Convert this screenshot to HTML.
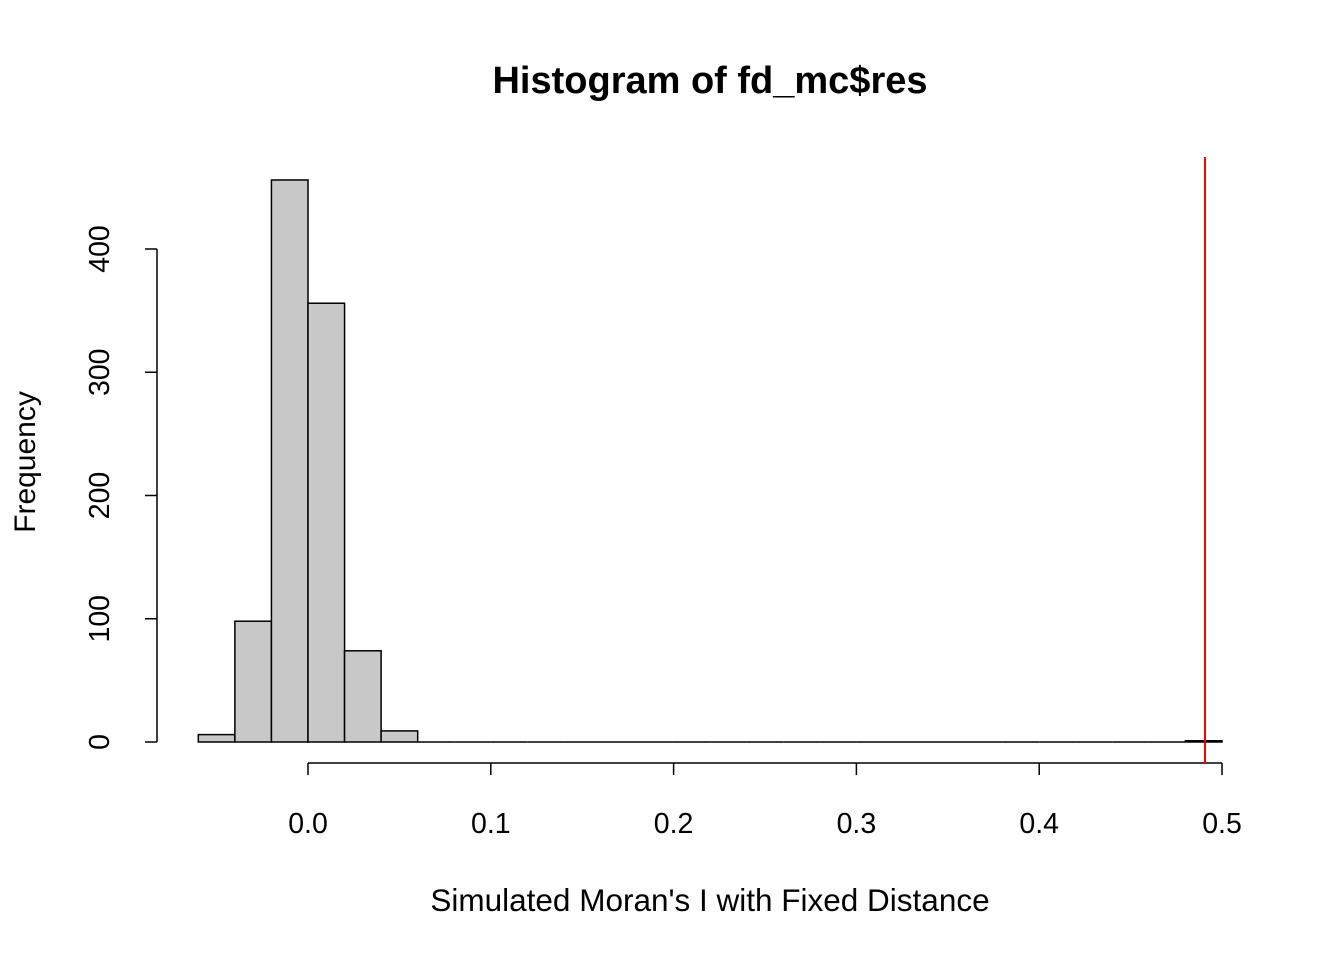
<!DOCTYPE html>
<html><head><meta charset="utf-8"><style>
body{margin:0;background:#fff;}
svg text{font-family:"Liberation Sans",Arial,sans-serif;fill:#000;}
</style></head><body>
<svg id="chart" width="1344" height="960" xmlns="http://www.w3.org/2000/svg">
<rect width="1344" height="960" fill="#fff"/>
<text x="710" y="93" font-size="38" font-weight="bold" text-anchor="middle">Histogram of fd_mc$res</text>
<text x="710" y="911" font-size="31.5" text-anchor="middle">Simulated Moran's I with Fixed Distance</text>
<text transform="translate(35,462) rotate(-90)" font-size="30" text-anchor="middle">Frequency</text>
<g id="bars"></g>
<g id="xaxis"></g>
<g id="yaxis"></g>
<g id="refline"></g>
</svg>
<script>
const binStart = -0.06;
const binWidth = 0.02;
const counts = [6,98,456,356,74,9,0,0,0,0,0,0,0,0,0,0,0,0,0,0,0,0,0,0,0,0,0,1];
const xTicks = [0,0.1,0.2,0.3,0.4,0.5];
const xTickLabels = ["0.0","0.1","0.2","0.3","0.4","0.5"];
const yTicks = [0,100,200,300,400];
const observed = [0.4907];

const NS="http://www.w3.org/2000/svg";
const xs = v => 308 + v*1828;
const ys = v => 742 - v*1.2325;
function mk(tag, attrs, parent){const e=document.createElementNS(NS,tag);for(const k in attrs)e.setAttribute(k,attrs[k]);parent.appendChild(e);return e;}
const bars=document.getElementById('bars');
counts.forEach((c,i)=>{
  const x0=xs(binStart+i*binWidth), x1=xs(binStart+(i+1)*binWidth);
  let r;
  if(c===0){
    r=mk('line',{x1:x0,x2:x1,y1:ys(0),y2:ys(0),stroke:'#000','stroke-width':1.5},bars);
  } else {
    r=mk('rect',{x:x0,y:ys(c),width:x1-x0,height:ys(0)-ys(c),fill:'#c8c8c8',stroke:'#000','stroke-width':1.5},bars);
  }
  
  
});
const xa=document.getElementById('xaxis');
mk('line',{x1:xs(xTicks[0]),x2:xs(xTicks[xTicks.length-1]),y1:763,y2:763,stroke:'#000','stroke-width':1.5},xa);
xTicks.forEach((t,i)=>{
  mk('line',{x1:xs(t),x2:xs(t),y1:763,y2:775,stroke:'#000','stroke-width':1.5},xa);
  const tx=mk('text',{x:xs(t),y:833,'font-size':28.5,'text-anchor':'middle'},xa);
  tx.textContent=xTickLabels[i];
  
  
});
const ya=document.getElementById('yaxis');
mk('line',{x1:157,x2:157,y1:ys(yTicks[0]),y2:ys(yTicks[yTicks.length-1]),stroke:'#000','stroke-width':1.5},ya);
yTicks.forEach(t=>{
  mk('line',{x1:145,x2:157,y1:ys(t),y2:ys(t),stroke:'#000','stroke-width':1.5},ya);
  const tx=mk('text',{transform:`translate(109,${ys(t)}) rotate(-90)`,'font-size':28.5,'text-anchor':'middle'},ya);
  tx.textContent=String(t);
  
  
});
const rl=document.getElementById('refline');
observed.forEach(v=>{
  const l=mk('line',{x1:xs(v),x2:xs(v),y1:157,y2:763,stroke:'#ff0000','stroke-width':2},rl);
  
  
});
</script>
</body></html>
